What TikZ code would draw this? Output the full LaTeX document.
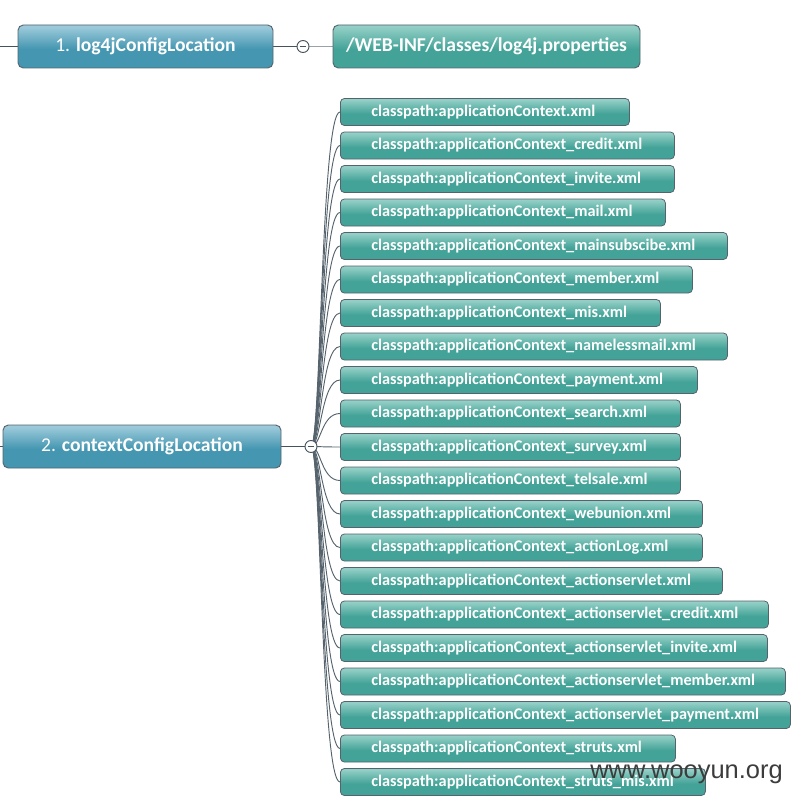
\documentclass[tikz,border=0pt]{standalone}
\usepackage{fontspec}
\setmainfont{Carlito}
\newfontfamily\wmfont{Liberation Sans}
\usetikzlibrary{calc}
\definecolor{parmain}{HTML}{4496B1}
\definecolor{parlight}{HTML}{9CCADA}
\definecolor{chmain}{HTML}{44A398}
\definecolor{chlight}{HTML}{93CFC6}
\definecolor{boxedge}{HTML}{56636D}
\definecolor{linedark}{HTML}{45535F}
\definecolor{linelight}{HTML}{9AA1A8}
\definecolor{wmgrey}{HTML}{3C3C3C}
\pgfdeclareverticalshading{parshade}{100bp}{color(0bp)=(parmain); color(25bp)=(parmain); color(47bp)=(parmain); color(73bp)=(parlight); color(75bp)=(parlight); color(100bp)=(parlight)}
\pgfdeclareverticalshading{chshade}{100bp}{color(0bp)=(chmain); color(25bp)=(chmain); color(47bp)=(chmain); color(73bp)=(chlight); color(75bp)=(chlight); color(100bp)=(chlight)}
\pgfdeclarelayer{bg}
\pgfsetlayers{bg,main}
\tikzset{
  parbox/.style={draw=boxedge, line width=0.7pt, rounded corners=4pt, shading=parshade,
    minimum height=32.25pt, inner xsep=0pt, inner ysep=0pt, text=white,
    font=\fontsize{14.7}{17}\selectfont},
  webbox/.style={parbox, shading=chshade},
  chbox/.style={draw=boxedge, line width=0.6pt, rounded corners=3pt, shading=chshade,
    minimum height=20.25pt, inner xsep=0pt, inner ysep=0pt, text=white, anchor=west,
    font=\fontsize{12.2}{14}\selectfont\bfseries},
  hubc/.style={circle, draw=linedark, fill=white, line width=0.7pt, minimum size=9pt, inner sep=0pt,
    path picture={\draw[linedark, line width=0.9pt] ([xshift=-2.6pt]path picture bounding box.center) -- ([xshift=2.6pt]path picture bounding box.center);}},
  mainline/.style={draw=linedark, line width=1pt},
  lightline/.style={draw=linelight, line width=1pt},
  childline/.style={draw=boxedge, line width=0.7pt},
  wmtext/.style={text=wmgrey, font=\wmfont\fontsize{19.1}{22}\selectfont, inner sep=0pt, anchor=base west}
}
\begin{document}
\begin{tikzpicture}[x=0.75pt,y=-0.75pt]
\useasboundingbox (0,0) rectangle (795,799);
% parent nodes
\node[parbox, minimum width=191.25pt] (n1) at (145.5,46.5) {{\mdseries 1.} \textbf{log4jConfigLocation}};
\node[webbox, minimum width=230.25pt] (web) at (486.5,46.5) {\textbf{/WEB-INF/classes/log4j.properties}};
\node[parbox, minimum width=208.5pt] (n2) at (142,446.5) {{\mdseries 2.} \textbf{contextConfigLocation}};
\node[hubc] (hub1) at (303,46.5) {};
\node[hubc] (hub2) at (311,446.5) {};
\coordinate (l1) at (0,46.5);
\coordinate (l2) at (0,446.5);
\begin{pgfonlayer}{bg}
\draw[mainline] (l1) -- (n1.west);
\draw[mainline] (l2) -- (n2.west);
\draw[mainline] (n1.east) -- (hub1.center);
\draw[lightline] (hub1.center) -- (web.west);
\draw[mainline] (n2.east) -- (hub2.center);
\end{pgfonlayer}
% children
\foreach \r/\t [count=\i] in {
 629/{classpath:applicationContext.xml},
 674/{classpath:applicationContext\_credit.xml},
 674/{classpath:applicationContext\_invite.xml},
 665/{classpath:applicationContext\_mail.xml},
 727/{classpath:applicationContext\_mainsubscibe.xml},
 692/{classpath:applicationContext\_member.xml},
 660/{classpath:applicationContext\_mis.xml},
 727/{classpath:applicationContext\_namelessmail.xml},
 697/{classpath:applicationContext\_payment.xml},
 680/{classpath:applicationContext\_search.xml},
 680/{classpath:applicationContext\_survey.xml},
 680/{classpath:applicationContext\_telsale.xml},
 702/{classpath:applicationContext\_webunion.xml},
 702/{classpath:applicationContext\_actionLog.xml},
 722/{classpath:applicationContext\_actionservlet.xml},
 768/{classpath:applicationContext\_actionservlet\_credit.xml},
 767/{classpath:applicationContext\_actionservlet\_invite.xml},
 785/{classpath:applicationContext\_actionservlet\_member.xml},
 790/{classpath:applicationContext\_actionservlet\_payment.xml},
 675/{classpath:applicationContext\_struts.xml},
 705/{classpath:applicationContext\_struts\_mis.xml}} {
  \pgfmathsetmacro\yy{112+33.5*(\i-1)}
  \pgfmathsetmacro\ww{(\r-340)*0.75}
  \node[chbox] (c\i) at (340,\yy) {\makebox[\ww pt][l]{\hspace*{23.25pt}\t}};
  \begin{pgfonlayer}{bg}
  \draw[childline] (hub2.center) .. controls (321,446.5) and ([xshift=-14.25pt]c\i.west) .. (c\i.west);
  \end{pgfonlayer}
}
\node[wmtext] (wm) at (590,778.3) {www.wooyun.org};
\end{tikzpicture}
\end{document}
